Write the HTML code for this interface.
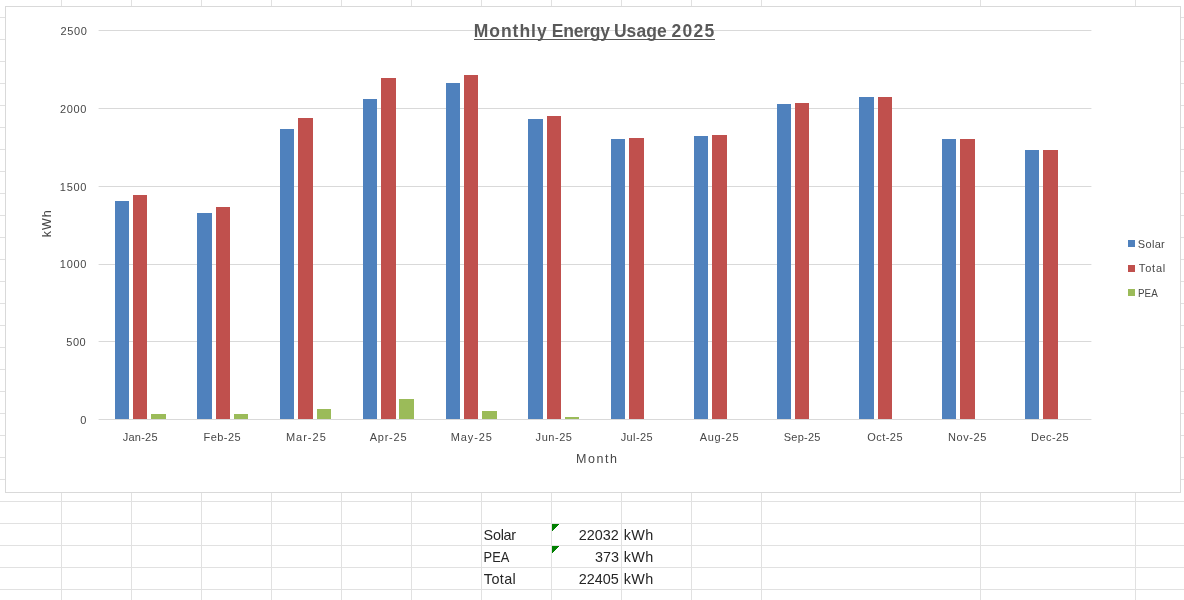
<!DOCTYPE html>
<html><head><meta charset="utf-8"><style>
html,body{margin:0;padding:0;background:#fff;width:1184px;height:600px;overflow:hidden}
svg{display:block;will-change:transform}
text{font-family:"Liberation Sans",sans-serif}
.tick{font-size:11px;fill:#474747}
.axt{font-size:12.5px;fill:#474747}
.title{font-size:17.5px;font-weight:bold;fill:#595959}
.cell{font-size:14.4px;fill:#262626}
</style></head><body>
<svg width="1184" height="600" viewBox="0 0 1184 600">
<rect x="61" y="0" width="1" height="600" fill="#e1e1e1"/>
<rect x="131" y="0" width="1" height="600" fill="#e1e1e1"/>
<rect x="201" y="0" width="1" height="600" fill="#e1e1e1"/>
<rect x="271" y="0" width="1" height="600" fill="#e1e1e1"/>
<rect x="341" y="0" width="1" height="600" fill="#e1e1e1"/>
<rect x="411" y="0" width="1" height="600" fill="#e1e1e1"/>
<rect x="481" y="0" width="1" height="600" fill="#e1e1e1"/>
<rect x="551" y="0" width="1" height="600" fill="#e1e1e1"/>
<rect x="621" y="0" width="1" height="600" fill="#e1e1e1"/>
<rect x="691" y="0" width="1" height="600" fill="#e1e1e1"/>
<rect x="761" y="0" width="1" height="600" fill="#e1e1e1"/>
<rect x="980" y="0" width="1" height="600" fill="#e1e1e1"/>
<rect x="1135" y="0" width="1" height="600" fill="#e1e1e1"/>
<rect x="0" y="17" width="1184" height="1" fill="#e1e1e1"/>
<rect x="0" y="39" width="1184" height="1" fill="#e1e1e1"/>
<rect x="0" y="61" width="1184" height="1" fill="#e1e1e1"/>
<rect x="0" y="83" width="1184" height="1" fill="#e1e1e1"/>
<rect x="0" y="105" width="1184" height="1" fill="#e1e1e1"/>
<rect x="0" y="127" width="1184" height="1" fill="#e1e1e1"/>
<rect x="0" y="149" width="1184" height="1" fill="#e1e1e1"/>
<rect x="0" y="171" width="1184" height="1" fill="#e1e1e1"/>
<rect x="0" y="193" width="1184" height="1" fill="#e1e1e1"/>
<rect x="0" y="215" width="1184" height="1" fill="#e1e1e1"/>
<rect x="0" y="237" width="1184" height="1" fill="#e1e1e1"/>
<rect x="0" y="259" width="1184" height="1" fill="#e1e1e1"/>
<rect x="0" y="281" width="1184" height="1" fill="#e1e1e1"/>
<rect x="0" y="303" width="1184" height="1" fill="#e1e1e1"/>
<rect x="0" y="325" width="1184" height="1" fill="#e1e1e1"/>
<rect x="0" y="347" width="1184" height="1" fill="#e1e1e1"/>
<rect x="0" y="369" width="1184" height="1" fill="#e1e1e1"/>
<rect x="0" y="391" width="1184" height="1" fill="#e1e1e1"/>
<rect x="0" y="413" width="1184" height="1" fill="#e1e1e1"/>
<rect x="0" y="435" width="1184" height="1" fill="#e1e1e1"/>
<rect x="0" y="457" width="1184" height="1" fill="#e1e1e1"/>
<rect x="0" y="479" width="1184" height="1" fill="#e1e1e1"/>
<rect x="0" y="501" width="1184" height="1" fill="#e1e1e1"/>
<rect x="0" y="523" width="1184" height="1" fill="#e1e1e1"/>
<rect x="0" y="545" width="1184" height="1" fill="#e1e1e1"/>
<rect x="0" y="567" width="1184" height="1" fill="#e1e1e1"/>
<rect x="0" y="589" width="1184" height="1" fill="#e1e1e1"/>
<rect x="5.5" y="6.5" width="1175" height="486" fill="#fff" stroke="#d9d9d9" stroke-width="1"/>
<rect x="98.6" y="30" width="992.8" height="1" fill="#d9d9d9"/>
<rect x="98.6" y="108" width="992.8" height="1" fill="#d9d9d9"/>
<rect x="98.6" y="186" width="992.8" height="1" fill="#d9d9d9"/>
<rect x="98.6" y="264" width="992.8" height="1" fill="#d9d9d9"/>
<rect x="98.6" y="341" width="992.8" height="1" fill="#d9d9d9"/>
<rect x="98.6" y="419" width="992.8" height="1" fill="#d9d9d9"/>
<rect x="115" y="201" width="14" height="218" fill="#4f81bd"/>
<rect x="133" y="195" width="14" height="224" fill="#c0504d"/>
<rect x="151" y="414" width="15" height="5" fill="#9bbb59"/>
<rect x="197" y="213" width="15" height="206" fill="#4f81bd"/>
<rect x="216" y="207" width="14" height="212" fill="#c0504d"/>
<rect x="234" y="414" width="14" height="5" fill="#9bbb59"/>
<rect x="280" y="129" width="14" height="290" fill="#4f81bd"/>
<rect x="298" y="118" width="15" height="301" fill="#c0504d"/>
<rect x="317" y="409" width="14" height="10" fill="#9bbb59"/>
<rect x="363" y="99" width="14" height="320" fill="#4f81bd"/>
<rect x="381" y="78" width="15" height="341" fill="#c0504d"/>
<rect x="399" y="399" width="15" height="20" fill="#9bbb59"/>
<rect x="446" y="83" width="14" height="336" fill="#4f81bd"/>
<rect x="464" y="75" width="14" height="344" fill="#c0504d"/>
<rect x="482" y="411" width="15" height="8" fill="#9bbb59"/>
<rect x="528" y="119" width="15" height="300" fill="#4f81bd"/>
<rect x="547" y="116" width="14" height="303" fill="#c0504d"/>
<rect x="565" y="417" width="14" height="2" fill="#9bbb59"/>
<rect x="611" y="139" width="14" height="280" fill="#4f81bd"/>
<rect x="629" y="138" width="15" height="281" fill="#c0504d"/>
<rect x="694" y="136" width="14" height="283" fill="#4f81bd"/>
<rect x="712" y="135" width="15" height="284" fill="#c0504d"/>
<rect x="777" y="104" width="14" height="315" fill="#4f81bd"/>
<rect x="795" y="103" width="14" height="316" fill="#c0504d"/>
<rect x="859" y="97" width="15" height="322" fill="#4f81bd"/>
<rect x="878" y="97" width="14" height="322" fill="#c0504d"/>
<rect x="942" y="139" width="14" height="280" fill="#4f81bd"/>
<rect x="960" y="139" width="15" height="280" fill="#c0504d"/>
<rect x="1025" y="150" width="14" height="269" fill="#4f81bd"/>
<rect x="1043" y="150" width="15" height="269" fill="#c0504d"/>
<rect x="474" y="39" width="241" height="1" fill="#595959"/>
<rect x="1128" y="240" width="7" height="7" fill="#4f81bd"/>
<rect x="1128" y="265" width="7" height="7" fill="#c0504d"/>
<rect x="1128" y="289" width="7" height="7" fill="#9bbb59"/>
<path d="M552 524h7v1h-7zM552 525h6v1h-6zM552 526h5v1h-5zM552 527h4v1h-4zM552 528h3v1h-3zM552 529h2v1h-2zM552 530h1v1h-1z" fill="#008000"/>
<path d="M552 546h7v1h-7zM552 547h6v1h-6zM552 548h5v1h-5zM552 549h4v1h-4zM552 550h3v1h-3zM552 551h2v1h-2zM552 552h1v1h-1z" fill="#008000"/>
<text x="140.11" y="441.00" text-anchor="middle" class="tick" textLength="34.86" lengthAdjust="spacing">Jan-25</text>
<text x="222.11" y="441.00" text-anchor="middle" class="tick" textLength="37.05" lengthAdjust="spacing">Feb-25</text>
<text x="305.83" y="441.00" text-anchor="middle" class="tick" textLength="39.87" lengthAdjust="spacing">Mar-25</text>
<text x="388.13" y="441.00" text-anchor="middle" class="tick" textLength="36.90" lengthAdjust="spacing">Apr-25</text>
<text x="471.26" y="441.00" text-anchor="middle" class="tick" textLength="41.25" lengthAdjust="spacing">May-25</text>
<text x="553.79" y="441.00" text-anchor="middle" class="tick" textLength="36.37" lengthAdjust="spacing">Jun-25</text>
<text x="636.63" y="441.00" text-anchor="middle" class="tick" textLength="31.83" lengthAdjust="spacing">Jul-25</text>
<text x="719.09" y="441.00" text-anchor="middle" class="tick" textLength="38.90" lengthAdjust="spacing">Aug-25</text>
<text x="802.08" y="441.00" text-anchor="middle" class="tick" textLength="36.76" lengthAdjust="spacing">Sep-25</text>
<text x="884.88" y="441.00" text-anchor="middle" class="tick" textLength="35.35" lengthAdjust="spacing">Oct-25</text>
<text x="967.18" y="441.00" text-anchor="middle" class="tick" textLength="38.52" lengthAdjust="spacing">Nov-25</text>
<text x="1049.88" y="441.00" text-anchor="middle" class="tick" textLength="37.72" lengthAdjust="spacing">Dec-25</text>
<text x="86.95" y="35.00" text-anchor="end" class="tick" textLength="26.47" lengthAdjust="spacing">2500</text>
<text x="86.40" y="113.00" text-anchor="end" class="tick" textLength="26.44" lengthAdjust="spacing">2000</text>
<text x="86.49" y="191.00" text-anchor="end" class="tick" textLength="26.62" lengthAdjust="spacing">1500</text>
<text x="86.49" y="268.00" text-anchor="end" class="tick" textLength="26.62" lengthAdjust="spacing">1000</text>
<text x="85.61" y="346.00" text-anchor="end" class="tick" textLength="19.30" lengthAdjust="spacing">500</text>
<text x="86.36" y="424.00" text-anchor="end" class="tick">0</text>
<text x="510.16" y="37.00" text-anchor="middle" class="title" textLength="72.95" lengthAdjust="spacing">Monthly</text>
<text x="580.92" y="37.00" text-anchor="middle" class="title" textLength="58.36" lengthAdjust="spacing">Energy</text>
<text x="640.30" y="37.00" text-anchor="middle" class="title" textLength="52.80" lengthAdjust="spacing">Usage</text>
<text x="692.87" y="37.00" text-anchor="middle" class="title" textLength="42.95" lengthAdjust="spacing">2025</text>
<text x="596.40" y="463.00" text-anchor="middle" class="axt" textLength="41.00" lengthAdjust="spacing">Month</text>
<text transform="translate(51.00,223.86) rotate(-90)" text-anchor="middle" class="axt" textLength="27.00" lengthAdjust="spacing">kWh</text>
<text x="1137.79" y="248.00" class="tick" textLength="26.97" lengthAdjust="spacing">Solar</text>
<text x="1138.85" y="272.00" class="tick" textLength="26.41" lengthAdjust="spacing">Total</text>
<text transform="translate(1138.06,297.00) scale(0.8951,1)" class="tick">PEA</text>
<text x="483.62" y="540.00" class="cell" textLength="32.54" lengthAdjust="spacing">Solar</text>
<text x="618.86" y="540.00" text-anchor="end" class="cell" textLength="40.10" lengthAdjust="spacing">22032</text>
<text x="623.64" y="540.00" class="cell" textLength="29.66" lengthAdjust="spacing">kWh</text>
<text transform="translate(483.58,562.00) scale(0.8943,1)" class="cell">PEA</text>
<text x="618.94" y="562.00" text-anchor="end" class="cell" textLength="23.94" lengthAdjust="spacing">373</text>
<text x="623.64" y="562.00" class="cell" textLength="29.66" lengthAdjust="spacing">kWh</text>
<text x="483.85" y="584.00" class="cell" textLength="31.89" lengthAdjust="spacing">Total</text>
<text x="618.89" y="584.00" text-anchor="end" class="cell" textLength="40.09" lengthAdjust="spacing">22405</text>
<text x="623.64" y="584.00" class="cell" textLength="29.66" lengthAdjust="spacing">kWh</text>
</svg>
</body></html>
